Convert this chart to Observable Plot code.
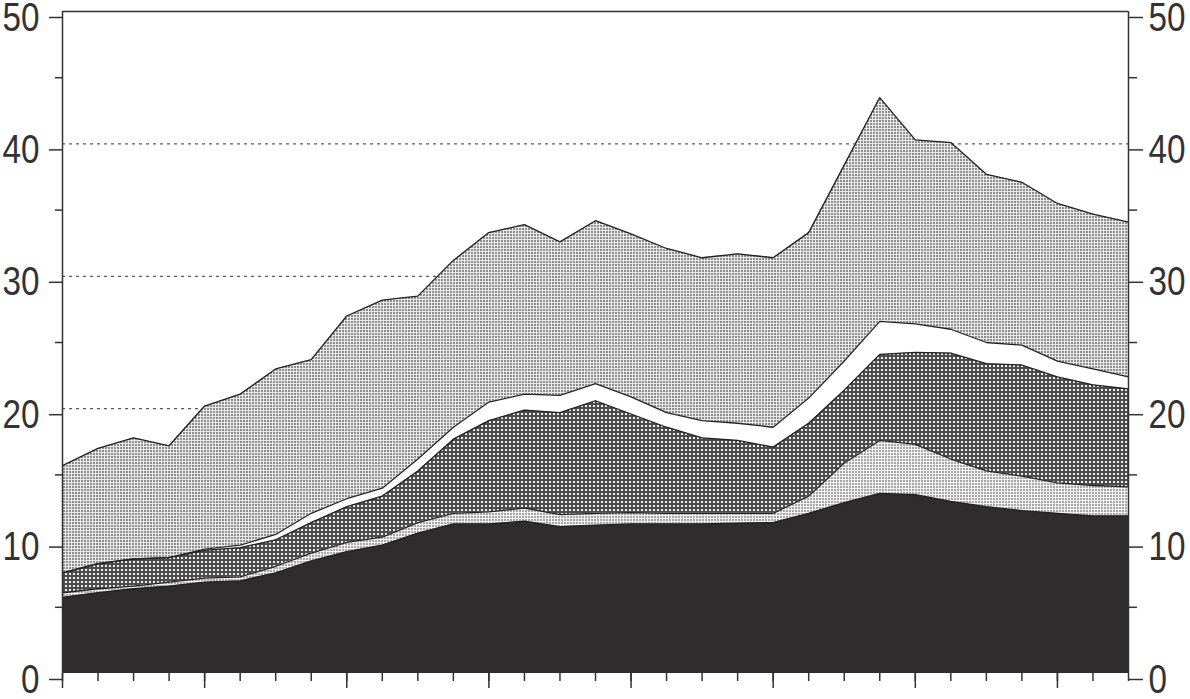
<!DOCTYPE html>
<html><head><meta charset="utf-8">
<script src="https://cdn.jsdelivr.net/npm/d3@7"></script>
<script src="https://cdn.jsdelivr.net/npm/@observablehq/plot@0.6"></script>
<style>html,body{margin:0;padding:0;background:#fff}#chart svg{display:block}</style>
</head><body><div id="chart"></div>
<script>
// x positions (periods), 31 equally spaced observations
const periods = [0,1,2,3,4,5,6,7,8,9,10,11,12,13,14,15,16,17,18,19,20,21,22,23,24,25,26,27,28,29,30];
const majorPeriods = [0,4,8,12,16,20,24,28];
const yMajorTicks = [0,10,20,30,40,50];
const yMinorTicks = [5,15,25,35,45];
const gridValues = [10,20,30,40];

// layer values (bottom to top)
const blackLayer = [5.75,6.1,6.4,6.6,6.9,7.0,7.6,8.5,9.2,9.7,10.6,11.3,11.3,11.5,11.1,11.2,11.3,11.3,11.3,11.35,11.4,12.1,12.9,13.6,13.5,13.0,12.6,12.3,12.1,11.9,11.9];
const lightGrayLayer = [0.35,0.3,0.2,0.3,0.3,0.3,0.5,0.6,0.7,0.6,0.8,0.8,0.9,1.0,0.9,0.9,0.85,0.8,0.8,0.75,0.7,1.3,3.0,4.0,3.8,3.2,2.7,2.6,2.3,2.3,2.2];
const crossLayer = [1.5,1.9,2.05,1.85,2.1,2.2,2.0,2.3,2.7,3.1,3.9,5.6,6.9,7.4,7.7,8.5,7.45,6.5,5.7,5.5,5.0,5.5,5.5,6.5,6.95,8.0,8.1,8.4,8.0,7.6,7.4];
const whiteLayer = [0,0,0,0,0.1,0.2,0.4,0.7,0.6,0.6,0.9,0.9,1.4,1.2,1.3,1.3,1.3,1.1,1.3,1.3,1.5,1.9,2.2,2.5,2.15,1.8,1.6,1.5,1.2,1.2,0.9];
const topLayer = [8.1,8.7,9.15,8.45,10.8,11.4,12.5,11.6,13.8,14.2,12.3,12.6,12.8,12.8,11.6,12.3,12.3,12.4,12.3,12.8,12.8,12.5,14.8,16.9,13.9,14.1,12.7,12.3,11.9,11.7,11.7];

const layerNames = ["black","lightGray","cross","white","top"];
const layerFills = ["#2e2c2c","url(#pLight)","url(#pCross)","#ffffff","url(#pTop)"];
const series = {black: blackLayer, lightGray: lightGrayLayer, cross: crossLayer, white: whiteLayer, top: topLayer};

const data = [];
periods.forEach((p, i) => layerNames.forEach(name => data.push({period: p, layer: name, value: series[name][i]})));

const blank = () => "";
const ink = "#333";

const plot = Plot.plot({
  width: 1190, height: 699,
  marginLeft: 62, marginRight: 62, marginTop: 11, marginBottom: 26,
  x: {domain: [0, 30]},
  y: {domain: [0, 50]},
  color: {domain: layerNames, range: layerFills},
  style: {fontFamily: "'Liberation Sans',Arial,sans-serif", fontSize: "41px", color: ink, background: "#fff", overflow: "visible"},
  marks: [
    Plot.ruleY(gridValues, {stroke: ink, strokeWidth: 1, strokeDasharray: "3,4"}),
    Plot.areaY(data, {x: "period", y: "value", z: "layer", fill: "layer", order: layerNames}),
    Plot.lineY(data, Plot.stackY2({x: "period", y: "value", z: "layer", order: layerNames, stroke: "#222", strokeWidth: 1.3})),
    Plot.ruleY([50], {stroke: ink, strokeWidth: 1.5}),
    Plot.ruleX([0], {stroke: ink, strokeWidth: 1.5}),
    Plot.ruleX([30], {stroke: ink, strokeWidth: 1.5}),
    Plot.axisY({anchor: "left", ticks: yMajorTicks, tickSize: 13, tickPadding: 10, dy: 6, strokeWidth: 1.5, fill: ink, label: null, className: "ylab"}),
    Plot.axisY({anchor: "left", ticks: yMinorTicks, tickSize: 7, tickFormat: blank, strokeWidth: 1.5, label: null}),
    Plot.axisY({anchor: "right", ticks: yMajorTicks, tickSize: 14, tickPadding: 6, dy: 6, strokeWidth: 1.5, fill: ink, label: null, className: "ylab"}),
    Plot.axisY({anchor: "right", ticks: yMinorTicks, tickSize: 8, tickFormat: blank, strokeWidth: 1.5, label: null}),
    Plot.axisX({ticks: periods, tickSize: 8, tickFormat: blank, strokeWidth: 1.5, label: null}),
    Plot.axisX({ticks: majorPeriods, tickSize: 15, tickFormat: blank, strokeWidth: 1.5, label: null})
  ]
});

// narrow the digits like the original condensed face
plot.querySelectorAll("text").forEach(t => {
  const s = t.textContent.trim();
  if (/^\d+$/.test(s)) {
    t.setAttribute("textLength", String(18.5 * s.length));
    t.setAttribute("lengthAdjust", "spacingAndGlyphs");
  }
});

const defs = document.createElementNS("http://www.w3.org/2000/svg", "defs");
defs.innerHTML = `
<pattern id="pTop" patternUnits="userSpaceOnUse" width="3" height="3">
  <rect width="3" height="3" fill="#e9e9e9" shape-rendering="crispEdges"/>
  <rect width="2" height="2" fill="#8e8e8e" shape-rendering="crispEdges"/>
</pattern>
<pattern id="pLight" patternUnits="userSpaceOnUse" width="3" height="3">
  <rect width="3" height="3" fill="#f2f2f2" shape-rendering="crispEdges"/>
  <rect width="2" height="2" fill="#a6a6a6" shape-rendering="crispEdges"/>
</pattern>
<pattern id="pCross" patternUnits="userSpaceOnUse" width="4" height="4">
  <rect width="4" height="4" fill="#4c4c4c" shape-rendering="crispEdges"/>
  <rect x="1" y="1" width="2" height="2" fill="#eeeeee" shape-rendering="crispEdges"/>
</pattern>`;
plot.insertBefore(defs, plot.firstChild);
document.getElementById("chart").appendChild(plot);
</script>
</body></html>
